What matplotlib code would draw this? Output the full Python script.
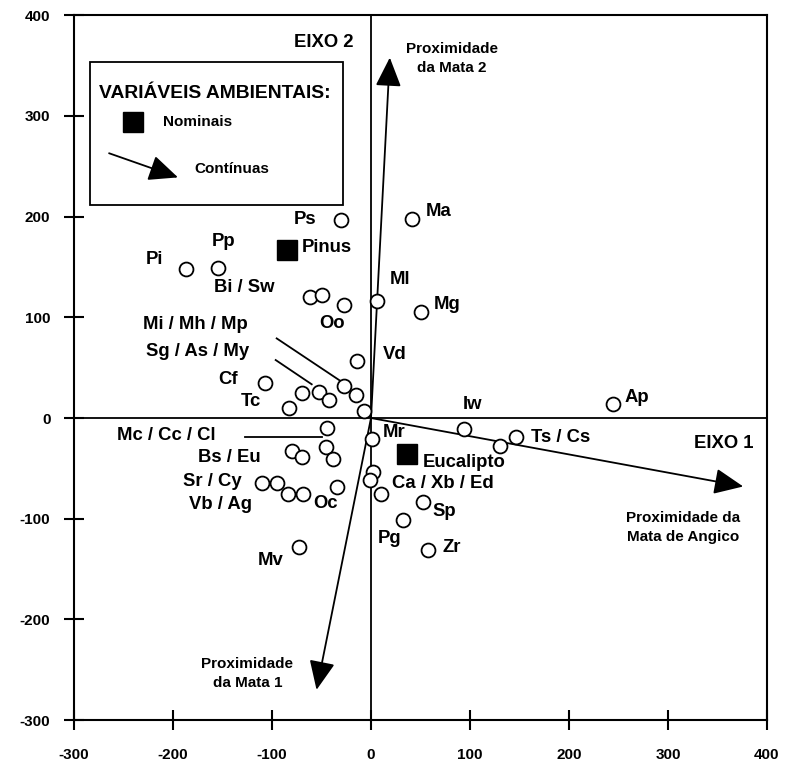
import matplotlib
matplotlib.use("Agg")
import matplotlib.pyplot as plt
from matplotlib.patches import Rectangle

plt.rcParams['font.family'] = ['Liberation Sans', 'DejaVu Sans']
plt.rcParams['font.weight'] = 'bold'
plt.rcParams['axes.unicode_minus'] = False

# species scores (circles)
sp_x = [-30.6, -186.9, -154.5, -61.6, -49.2, -27.0, 5.7, -14.5, -107.0, -70.0,
        -52.5, -42.4, -27.0, -15.2, -7.1, -82.8, -44.8, -80.1, -70.0, -45.5,
        -38.1, -109.8, -95.3, -84.1, -68.4, -34.0, -72.7, 0.7, 2.4, -1.0,
        10.1, 93.9, 130.3, 146.1, 52.2, 32.6, 57.3, 41.1, 50.5, 244.0]
sp_y = [196.6, 148.3, 148.6, 120.5, 121.8, 112.2, 116.5, 56.6, 35.0, 24.5,
        26.1, 17.9, 31.8, 22.8, 7.0, 9.6, -10.2, -32.8, -39.1, -28.5,
        -40.7, -64.2, -64.2, -75.8, -75.8, -68.2, -127.8, -20.9, -53.3, -61.6,
        -75.5, -11.3, -27.8, -19.2, -83.1, -101.3, -131.0, 197.6, 105.0, 13.9]

# nominal variables (squares)
nom_names = ['Pinus', 'Eucalipto']
nom_x = [-85.2, 36.7]
nom_y = [166.8, -35.7]

# continuous variables (arrows from origin)
arr_x = [19, 376, -55]
arr_y = [358, -68, -270]

fig = plt.figure(figsize=(7.91, 7.66), dpi=100)
ax = fig.add_axes([0.0936, 0.060, 0.876, 0.920])
ax.set_xlim(-300, 400)
ax.set_ylim(-300, 400)

ax.axhline(0, color='black', lw=1.3, zorder=1)
ax.axvline(0, color='black', lw=1.3, zorder=1)

for x, y in zip(arr_x, arr_y):
    ax.annotate('', xy=(x, y), xytext=(0, 0),
                arrowprops=dict(arrowstyle='-|>,head_length=0.9,head_width=0.4',
                                mutation_scale=20, lw=1.3, color='black',
                                shrinkA=0, shrinkB=0), zorder=2)

ax.plot(sp_x, sp_y, 'o', ms=10, mfc='white', mec='black', mew=1.3, zorder=3)
ax.plot(nom_x, nom_y, 's', ms=15, color='black', zorder=3)

# species labels
labels = [('Ps', -55, 197, 'right'), ('Pinus', -70, 169, 'left'),
          ('Pp', -161, 175, 'left'), ('Pi', -228, 157, 'left'),
          ('Bi / Sw', -159, 130, 'left'), ('Mi / Mh / Mp', -230, 93, 'left'),
          ('Oo', -52, 94, 'left'), ('Sg / As / My', -227, 66, 'left'),
          ('Cf', -154, 38, 'left'), ('Tc', -132, 16, 'left'),
          ('Mc / Cc / Cl', -257, -17, 'left'), ('Bs / Eu', -175, -39, 'left'),
          ('Sr / Cy', -190, -63, 'left'), ('Vb / Ag', -184, -86, 'left'),
          ('Oc', -58, -85, 'left'), ('Mv', -114, -142, 'left'),
          ('Ml', 19, 138, 'left'), ('Ma', 55, 205, 'left'),
          ('Mg', 63, 113, 'left'), ('Vd', 12, 63, 'left'),
          ('Iw', 93, 13, 'left'), ('Mr', 12, -14, 'left'),
          ('Eucalipto', 52, -44, 'left'), ('Ca / Xb / Ed', 21, -65, 'left'),
          ('Sp', 62, -93, 'left'), ('Pg', 7, -120, 'left'),
          ('Zr', 72, -129, 'left'), ('Ts / Cs', 162, -19, 'left'),
          ('Ap', 256, 20, 'left')]
for t, x, y, ha in labels:
    ax.text(x, y, t, fontsize=13.3, fontweight='bold', ha=ha, va='center', zorder=4)

# leader lines
ax.plot([-95.3, -29.6], [79.1, 36.0], color='black', lw=1.3)
ax.plot([-96.3, -59.9], [57.6, 33.5], color='black', lw=1.3)
ax.plot([-127.3, -49.8], [-19.2, -19.2], color='black', lw=1.3)

# axis names and arrow labels
ax.text(-18, 373, 'EIXO 2', fontsize=13.3, fontweight='bold', ha='right', va='center')
ax.text(386, -25, 'EIXO 1', fontsize=13.3, fontweight='bold', ha='right', va='center')
ax.text(82, 357, 'Proximidade\nda Mata 2', fontsize=11, fontweight='bold',
        ha='center', va='center', linespacing=1.45)
ax.text(315, -109, 'Proximidade da\nMata de Angico', fontsize=11, fontweight='bold',
        ha='center', va='center', linespacing=1.45)
ax.text(-125, -254, 'Proximidade\nda Mata 1', fontsize=11, fontweight='bold',
        ha='center', va='center', linespacing=1.45)

# legend box
ax.add_patch(Rectangle((-283.8, 211.5), 255.5, 142, fill=False, ec='black', lw=1.3, zorder=4))
ax.text(-275, 322, 'VARIÁVEIS AMBIENTAIS:', fontsize=13.9, fontweight='bold',
        ha='left', va='center')
ax.plot([-240.7], [294], 's', ms=15, color='black')
ax.text(-210, 294, 'Nominais', fontsize=11, fontweight='bold', ha='left', va='center')
ax.annotate('', xy=(-195, 239), xytext=(-264.6, 263),
            arrowprops=dict(arrowstyle='-|>,head_length=0.9,head_width=0.4',
                            mutation_scale=20, lw=1.3, color='black',
                            shrinkA=0, shrinkB=0))
ax.text(-178, 247, 'Contínuas', fontsize=11, fontweight='bold', ha='left', va='center')

ax.set_xticks([-300, -200, -100, 0, 100, 200, 300, 400])
ax.set_yticks([-300, -200, -100, 0, 100, 200, 300, 400])
ax.tick_params(direction='inout', length=14, width=1.5, labelsize=11)
ax.tick_params(axis='x', pad=13)
ax.tick_params(axis='y', pad=10)
for lab in ax.get_xticklabels() + ax.get_yticklabels():
    lab.set_fontweight('bold')
for s in ax.spines.values():
    s.set_linewidth(1.5)

fig.savefig('out.png', dpi=100)
